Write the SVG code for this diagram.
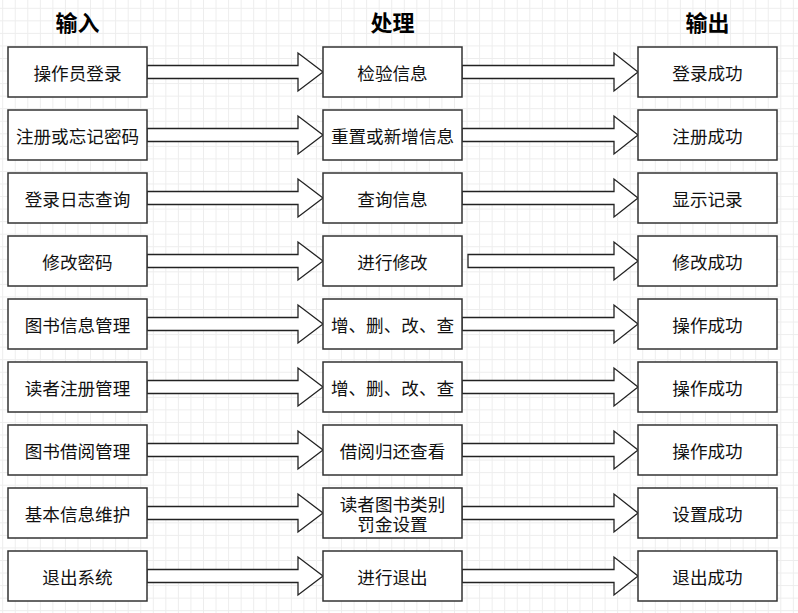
<svg xmlns="http://www.w3.org/2000/svg" width="798" height="613" viewBox="0 0 798 613">
<defs>
<pattern id="grid" width="12.55" height="12.55" patternUnits="userSpaceOnUse" x="2.2" y="7.8">
<path d="M0.5 0V12.55M0 0.5H12.55" stroke="#ededed" stroke-width="1" fill="none"/>
</pattern>
<style>
.box{fill:#fff;stroke:#333;stroke-width:1.5}
.arr{fill:#fff;stroke:#222;stroke-width:1.3;stroke-linejoin:miter}
.t{font-family:"Noto Sans CJK SC","Microsoft YaHei",sans-serif;font-size:17.6px;fill:#111;text-anchor:middle;dominant-baseline:central}
.h{font-family:"Noto Sans CJK SC","Microsoft YaHei",sans-serif;font-size:22px;font-weight:bold;fill:#000;text-anchor:middle;dominant-baseline:central}
</style>
</defs>
<rect width="798" height="613" fill="#fff"/>
<rect width="798" height="613" fill="url(#grid)"/>
<g id="headers">
<text class="h" x="77.5" y="21">输入</text>
<text class="h" x="392.5" y="21">处理</text>
<text class="h" x="707.5" y="21">输出</text>
</g>
<g id="connectors">
<path class="arr" d="M147 65.5H298V53L323 72L298 91V78.5H147Z"/>
<path class="arr" d="M462 65.5H614V53L638 72L614 91V78.5H462Z"/>
<path class="arr" d="M147 128.5H298V116L323 135L298 154V141.5H147Z"/>
<path class="arr" d="M462 128.5H614V116L638 135L614 154V141.5H462Z"/>
<path class="arr" d="M147 191.5H298V179L323 198L298 217V204.5H147Z"/>
<path class="arr" d="M462 191.5H614V179L638 198L614 217V204.5H462Z"/>
<path class="arr" d="M147 254.5H298V242L323 261L298 280V267.5H147Z"/>
<path class="arr" d="M468 254.5H614V242L638 261L614 280V267.5H468Z"/>
<path class="arr" d="M147 317.5H298V305L323 324L298 343V330.5H147Z"/>
<path class="arr" d="M462 317.5H614V305L638 324L614 343V330.5H462Z"/>
<path class="arr" d="M147 380.5H298V368L323 387L298 406V393.5H147Z"/>
<path class="arr" d="M462 380.5H614V368L638 387L614 406V393.5H462Z"/>
<path class="arr" d="M147 443.5H298V431L323 450L298 469V456.5H147Z"/>
<path class="arr" d="M462 443.5H614V431L638 450L614 469V456.5H462Z"/>
<path class="arr" d="M147 506.5H298V494L323 513L298 532V519.5H147Z"/>
<path class="arr" d="M462 506.5H614V494L638 513L614 532V519.5H462Z"/>
<path class="arr" d="M147 569.5H298V557L323 576L298 595V582.5H147Z"/>
<path class="arr" d="M462 569.5H614V557L638 576L614 595V582.5H462Z"/>
</g>
<g id="in1"><rect class="box" x="8" y="47" width="139" height="50"/><text class="t" x="77.5" y="72">操作员登录</text></g>
<g id="in2"><rect class="box" x="8" y="110" width="139" height="50"/><text class="t" x="77.5" y="135">注册或忘记密码</text></g>
<g id="in3"><rect class="box" x="8" y="173" width="139" height="50"/><text class="t" x="77.5" y="198">登录日志查询</text></g>
<g id="in4"><rect class="box" x="8" y="236" width="139" height="50"/><text class="t" x="77.5" y="261">修改密码</text></g>
<g id="in5"><rect class="box" x="8" y="299" width="139" height="50"/><text class="t" x="77.5" y="324">图书信息管理</text></g>
<g id="in6"><rect class="box" x="8" y="362" width="139" height="50"/><text class="t" x="77.5" y="387">读者注册管理</text></g>
<g id="in7"><rect class="box" x="8" y="425" width="139" height="50"/><text class="t" x="77.5" y="450">图书借阅管理</text></g>
<g id="in8"><rect class="box" x="8" y="488" width="139" height="50"/><text class="t" x="77.5" y="513">基本信息维护</text></g>
<g id="in9"><rect class="box" x="8" y="551" width="139" height="50"/><text class="t" x="77.5" y="576">退出系统</text></g>
<g id="p1"><rect class="box" x="323" y="47" width="139" height="50"/><text class="t" x="392.5" y="72">检验信息</text></g>
<g id="p2"><rect class="box" x="323" y="110" width="139" height="50"/><text class="t" x="392.5" y="135">重置或新增信息</text></g>
<g id="p3"><rect class="box" x="323" y="173" width="139" height="50"/><text class="t" x="392.5" y="198">查询信息</text></g>
<g id="p4"><rect class="box" x="323" y="236" width="139" height="50"/><text class="t" x="392.5" y="261">进行修改</text></g>
<g id="p5"><rect class="box" x="323" y="299" width="139" height="50"/><text class="t" x="392.5" y="324">增、删、改、查</text></g>
<g id="p6"><rect class="box" x="323" y="362" width="139" height="50"/><text class="t" x="392.5" y="387">增、删、改、查</text></g>
<g id="p7"><rect class="box" x="323" y="425" width="139" height="50"/><text class="t" x="392.5" y="450">借阅归还查看</text></g>
<g id="p8"><rect class="box" x="323" y="488" width="139" height="50"/><text class="t" x="392.5" y="503">读者图书类别</text><text class="t" x="392.5" y="523.5">罚金设置</text></g>
<g id="p9"><rect class="box" x="323" y="551" width="139" height="50"/><text class="t" x="392.5" y="576">进行退出</text></g>
<g id="o1"><rect class="box" x="638" y="47" width="139" height="50"/><text class="t" x="707.5" y="72">登录成功</text></g>
<g id="o2"><rect class="box" x="638" y="110" width="139" height="50"/><text class="t" x="707.5" y="135">注册成功</text></g>
<g id="o3"><rect class="box" x="638" y="173" width="139" height="50"/><text class="t" x="707.5" y="198">显示记录</text></g>
<g id="o4"><rect class="box" x="638" y="236" width="139" height="50"/><text class="t" x="707.5" y="261">修改成功</text></g>
<g id="o5"><rect class="box" x="638" y="299" width="139" height="50"/><text class="t" x="707.5" y="324">操作成功</text></g>
<g id="o6"><rect class="box" x="638" y="362" width="139" height="50"/><text class="t" x="707.5" y="387">操作成功</text></g>
<g id="o7"><rect class="box" x="638" y="425" width="139" height="50"/><text class="t" x="707.5" y="450">操作成功</text></g>
<g id="o8"><rect class="box" x="638" y="488" width="139" height="50"/><text class="t" x="707.5" y="513">设置成功</text></g>
<g id="o9"><rect class="box" x="638" y="551" width="139" height="50"/><text class="t" x="707.5" y="576">退出成功</text></g>
</svg>
